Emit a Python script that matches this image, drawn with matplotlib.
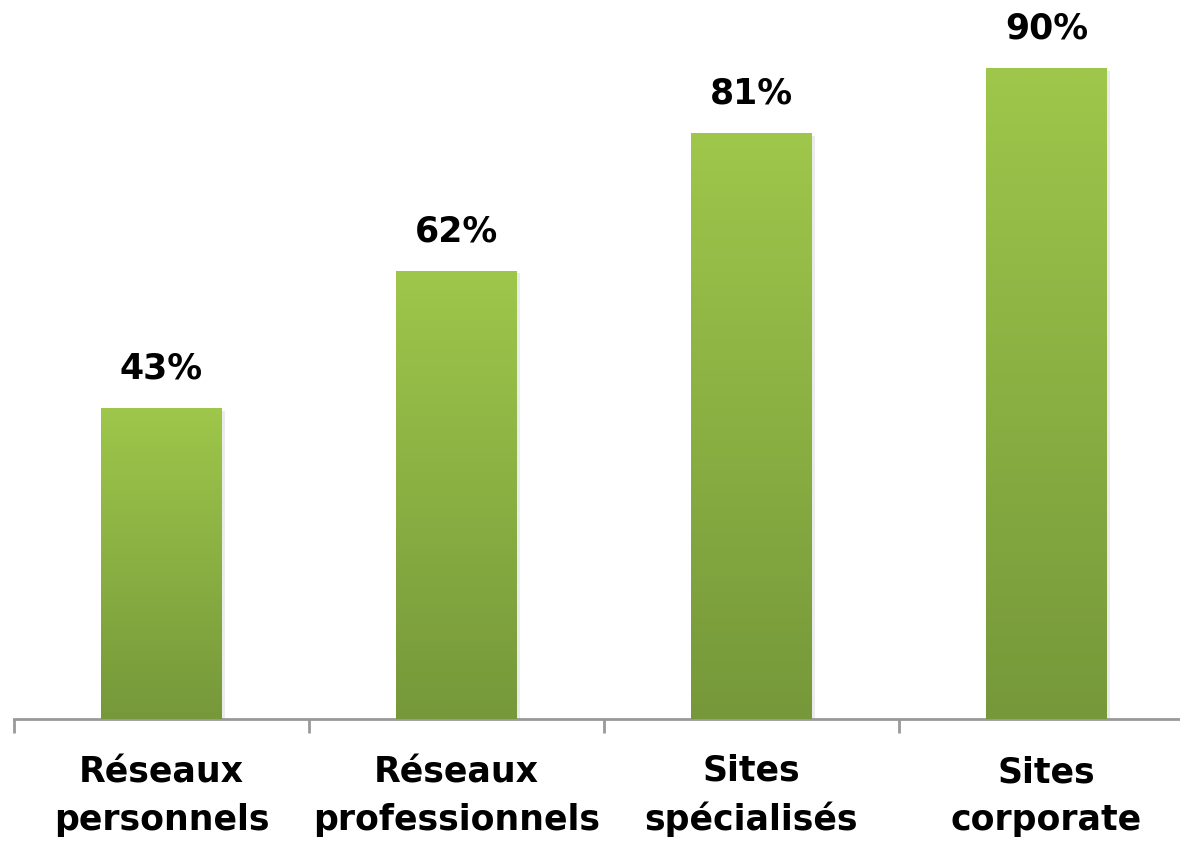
import matplotlib
matplotlib.use("Agg")
import matplotlib.pyplot as plt
import numpy as np
from matplotlib.colors import LinearSegmentedColormap

categories = ["Réseaux\npersonnels", "Réseaux\nprofessionnels", "Sites\nspécialisés", "Sites\ncorporate"]
values = [43, 62, 81, 90]
labels = ["43%", "62%", "81%", "90%"]

plt.rcParams['font.family'] = ['DejaVu Sans']

fig = plt.figure(figsize=(11.8, 8.43), dpi=100)
ax = fig.add_axes([14/1180, (843-719)/843, 1180/1180, (719-10)/843])

x = np.arange(len(values))
bars = ax.bar(x, values, width=0.407, color="#8BB043", zorder=2)

ax.set_xlim(-0.5, 3.5)
ymax = 709 / 7.233
ax.set_ylim(0, ymax)

cmap = LinearSegmentedColormap.from_list("g", ["#76983A", "#9EC74B"])
grad = np.linspace(0, 1, 256).reshape(-1, 1)
for b in bars:
    x0, y0 = b.get_x(), b.get_y()
    w, h = b.get_width(), b.get_height()
    # shadow
    ax.bar(x0 + w/2 + 0.012, h, width=w, bottom=-0.4, color="#000000", alpha=0.08, zorder=1)
    im = ax.imshow(grad, extent=[x0, x0 + w, y0, y0 + h], origin="lower",
                   cmap=cmap, aspect="auto", zorder=3)
    im.set_clip_path(b)

for xi, v, lab in zip(x, values, labels):
    ax.annotate(lab, (xi, v), xytext=(0, 16), textcoords="offset points",
                ha="center", va="bottom", fontsize=25, fontweight="bold", color="black")

for s in ["top", "right", "left"]:
    ax.spines[s].set_visible(False)
ax.spines["bottom"].set_color("#999999")
ax.spines["bottom"].set_linewidth(2)
ax.set_yticks([])
ax.set_xticks([-0.5, 0.5, 1.5, 2.5, 3.5])
ax.set_xticklabels([])
ax.tick_params(axis="x", length=10, width=2, color="#999999", direction="out")
ax.set_xticks(x, minor=True)
ax.set_xticklabels(categories, minor=True, fontsize=25, fontweight="bold",
                   linespacing=1.5)
ax.tick_params(axis="x", which="minor", length=0, pad=80)
for t in ax.get_xticklabels(minor=True):
    t.set_verticalalignment("baseline")

fig.savefig("out.png", dpi=100)
